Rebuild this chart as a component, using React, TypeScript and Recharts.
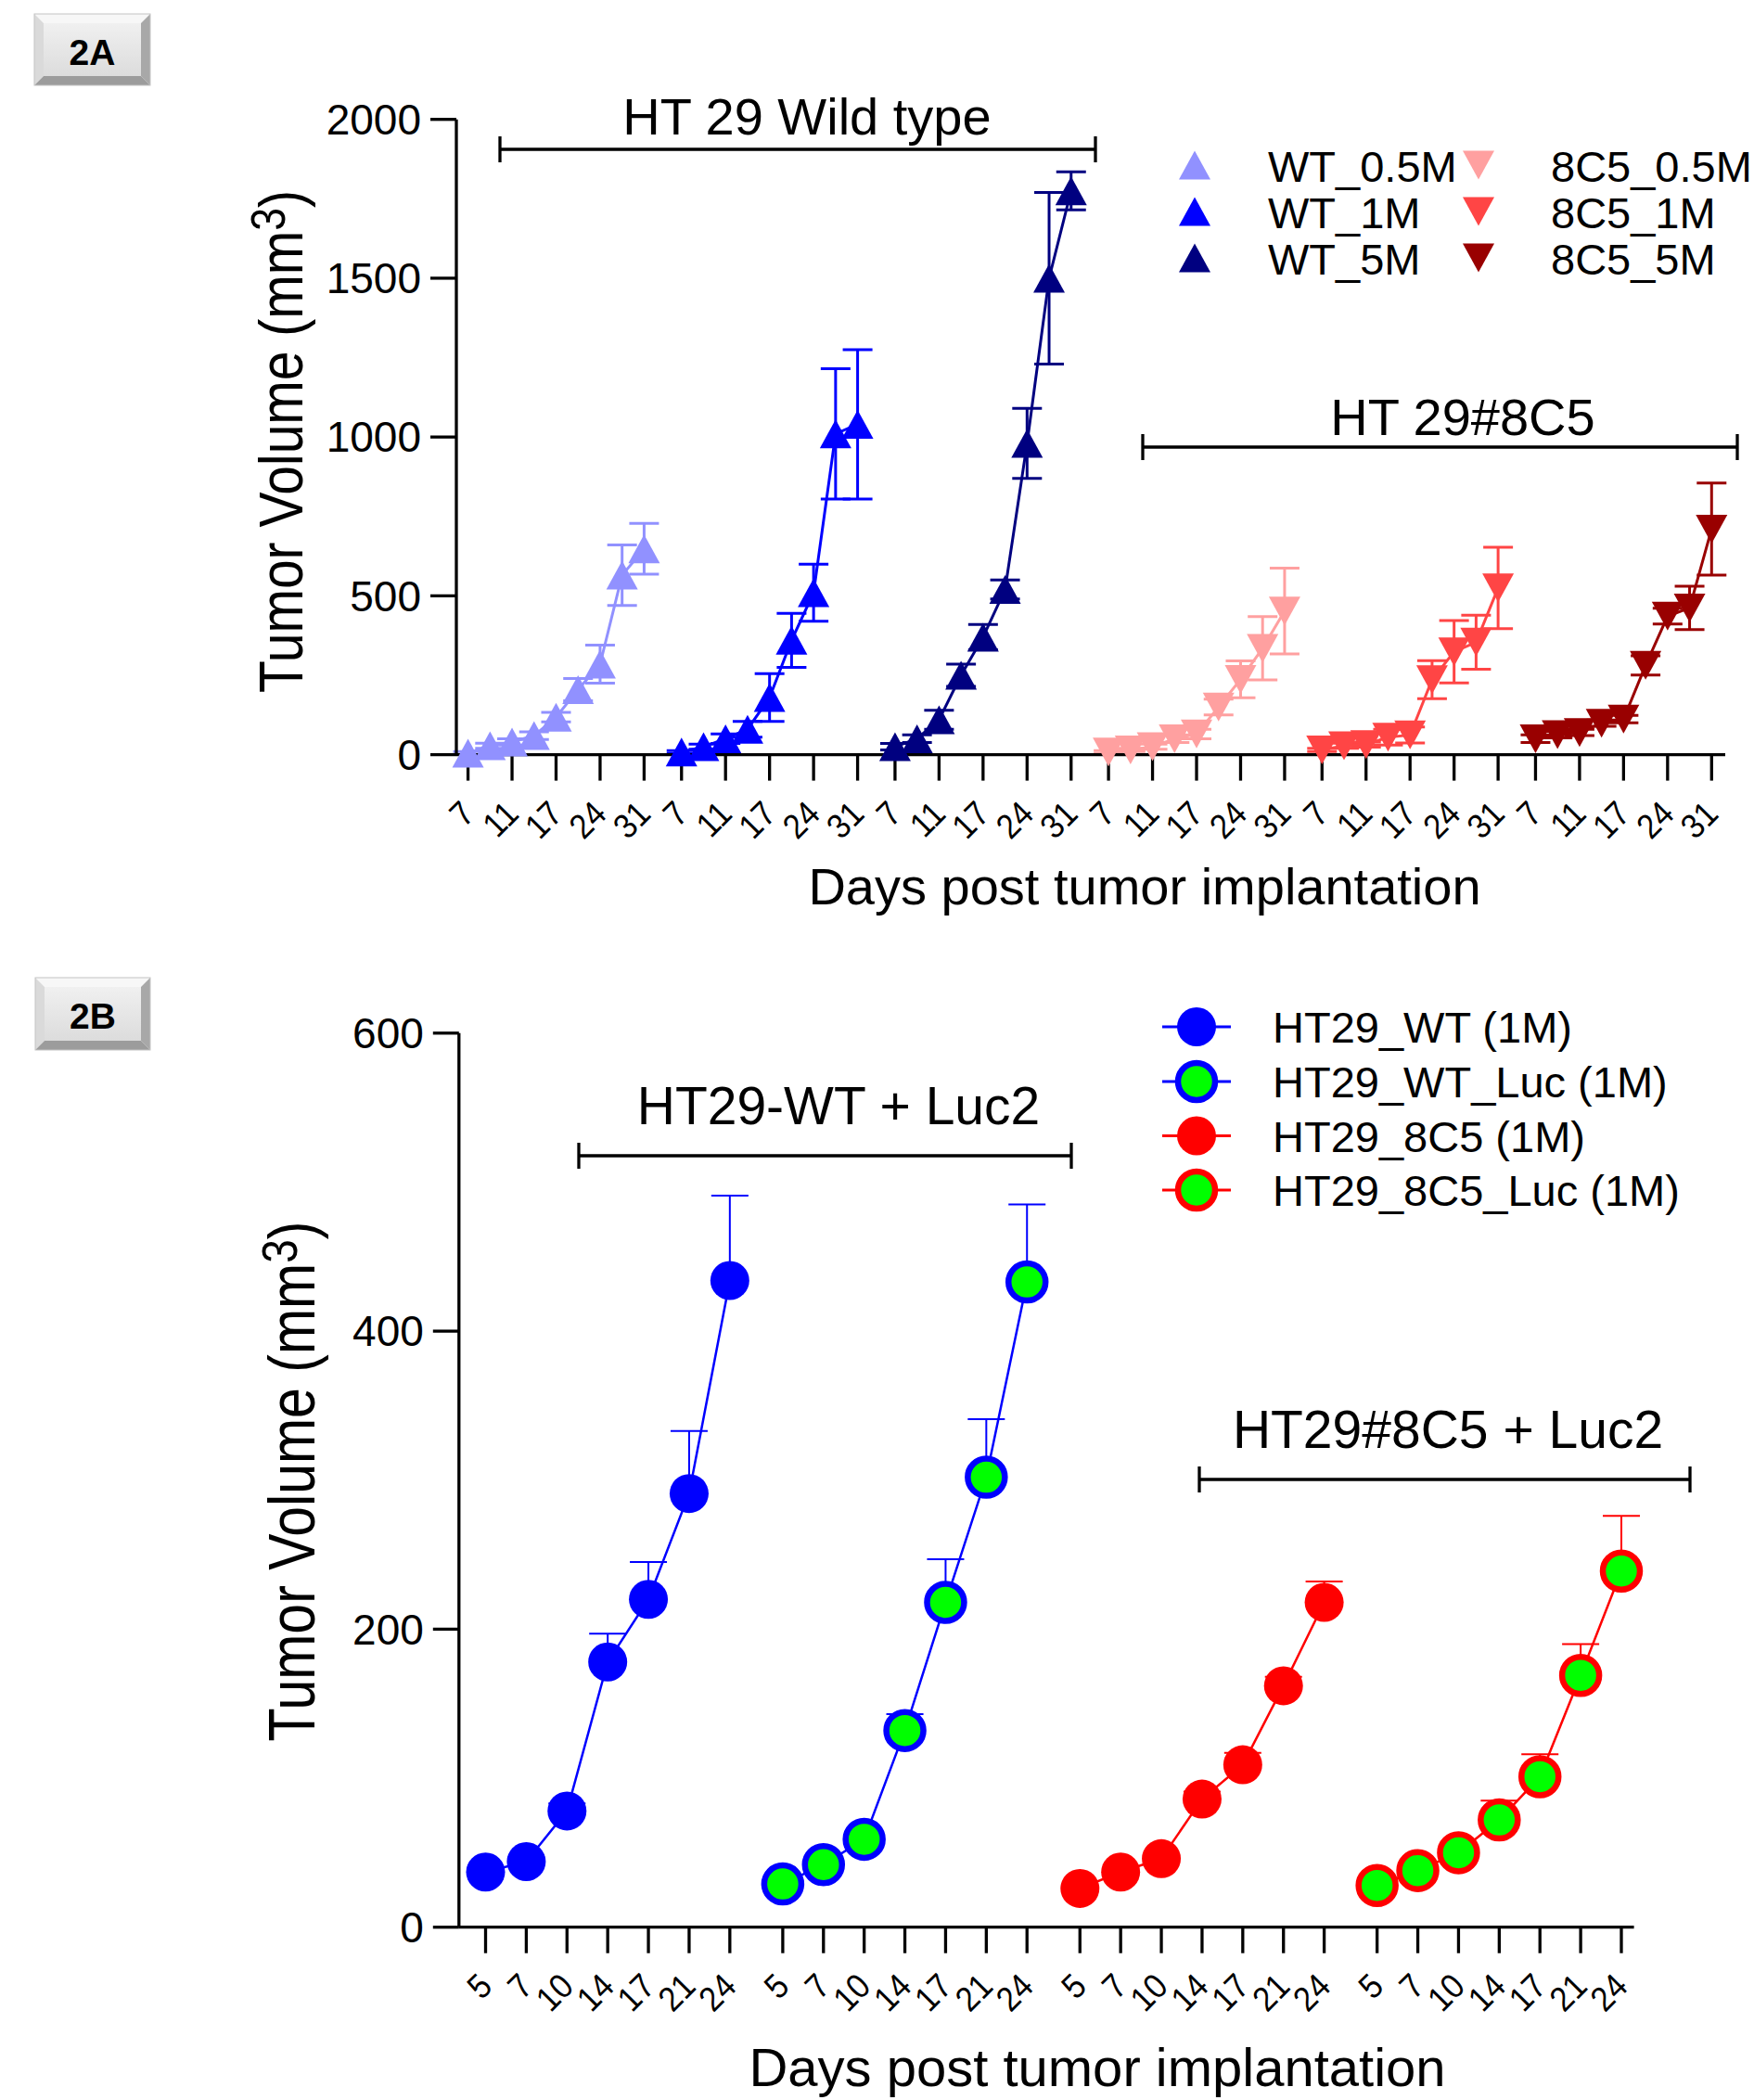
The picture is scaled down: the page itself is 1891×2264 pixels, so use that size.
import React from "react";
import { LineChart, Line, XAxis, YAxis, ErrorBar } from "recharts";

const FONT = "'Liberation Sans', Arial, Helvetica, sans-serif";

// ---------- 2A : days post implantation, 9 measurements per group (every 2nd labelled)
const tickDaysA = ["7", "11", "17", "24", "31"];

const wt05Mean = [5, 28, 40, 60, 118, 205, 285, 565, 648];
const wt05Sem = [5, 8, 10, 12, 15, 35, 60, 95, 80];
const wt1Mean = [8, 25, 50, 80, 180, 360, 510, 1010, 1040];
const wt1Sem = [5, 8, 15, 25, 75, 85, 90, 205, 235];
const wt5Mean = [25, 50, 110, 250, 370, 520, 980, 1500, 1775];
const wt5Sem = [10, 12, 30, 35, 40, 30, 110, 270, 60];
const c05Mean = [8, 15, 25, 50, 65, 150, 237, 335, 452];
const c05Sem = [5, 5, 8, 12, 15, 25, 58, 100, 135];
const c1Mean = [15, 28, 32, 55, 62, 236, 324, 354, 525];
const c1Sem = [5, 8, 8, 25, 25, 60, 98, 85, 128];
const c5Mean = [50, 63, 70, 99, 112, 281, 436, 462, 710];
const c5Sem = [12, 10, 10, 10, 12, 30, 25, 68, 145];

const seriesA = [
  { name: "WT_0.5M", color: "#9191ff", up: true, mean: wt05Mean, sem: wt05Sem },
  { name: "WT_1M", color: "#0000ff", up: true, mean: wt1Mean, sem: wt1Sem },
  { name: "WT_5M", color: "#000080", up: true, mean: wt5Mean, sem: wt5Sem },
  { name: "8C5_0.5M", color: "#ffa0a0", up: false, mean: c05Mean, sem: c05Sem },
  { name: "8C5_1M", color: "#ff4545", up: false, mean: c1Mean, sem: c1Sem },
  { name: "8C5_5M", color: "#990000", up: false, mean: c5Mean, sem: c5Sem },
];

// ---------- 2B
const daysB = ["5", "7", "10", "14", "17", "21", "24"];

const htWtMean = [37, 44, 78, 178, 220, 291, 434];
const htWtSem = [3, 3, 5, 19, 25, 42, 57];
const htWtLucMean = [29, 42, 59, 132, 218, 302, 433];
const htWtLucSem = [3, 3, 4, 11, 29, 39, 52];
const ht8c5Mean = [26, 37, 46, 86, 109, 162, 218];
const ht8c5Sem = [2, 3, 3, 5, 8, 6, 14];
const ht8c5LucMean = [28, 38, 50, 72, 101, 169, 239];
const ht8c5LucSem = [2, 3, 4, 13, 15, 21, 37];

const seriesB = [
  { name: "HT29_WT (1M)", color: "#0000ff", luc: false, mean: htWtMean, sem: htWtSem },
  { name: "HT29_WT_Luc (1M)", color: "#0000ff", luc: true, mean: htWtLucMean, sem: htWtLucSem },
  { name: "HT29_8C5 (1M)", color: "#ff0000", luc: false, mean: ht8c5Mean, sem: ht8c5Sem },
  { name: "HT29_8C5_Luc (1M)", color: "#ff0000", luc: true, mean: ht8c5LucMean, sem: ht8c5LucSem },
];

// groups are laid side by side on one numeric axis
const GROUP_A = 9.7;
const GROUP_B = 7.3;
const GREEN = "#00ff00";

const triPath = (cx: number, cy: number, up: boolean) => {
  const w = 17;
  const h = 15.5;
  return up
    ? `M${cx},${cy - h} L${cx + w},${cy + h} L${cx - w},${cy + h} Z`
    : `M${cx},${cy + h} L${cx + w},${cy - h} L${cx - w},${cy - h} Z`;
};

const makeXTick = (labels: string[]) => (props: any) => {
  const { x, y, index } = props;
  const ax = x + 9;
  const ay = y + 38;
  return (
    <text key={`tick-${index}`} transform={`translate(${ax} ${ay}) rotate(-45) scale(1 1.1)`} textAnchor="end" fontSize={34} fontFamily={FONT} fill="#000">
      {labels[index % labels.length]}
    </text>
  );
};

const axisStyle = { stroke: "#000", strokeWidth: 3.3 };

function BevelBox({ x0, y0, x1, y1, label }: { x0: number; y0: number; x1: number; y1: number; label: string }) {
  const b = 10;
  return (
    <g>
      <rect x={x0 + b} y={y0 + b} width={x1 - x0 - 2 * b} height={y1 - y0 - 2 * b} fill="url(#boxFace)" />
      <polygon points={`${x0},${y0} ${x1},${y0} ${x1 - b},${y0 + b} ${x0 + b},${y0 + b}`} fill="#f7f7f7" />
      <polygon points={`${x0},${y0} ${x0 + b},${y0 + b} ${x0 + b},${y1 - b} ${x0},${y1}`} fill="#dadada" />
      <polygon points={`${x1},${y0} ${x1},${y1} ${x1 - b},${y1 - b} ${x1 - b},${y0 + b}`} fill="#a8a8a8" />
      <polygon points={`${x0},${y1} ${x0 + b},${y1 - b} ${x1 - b},${y1 - b} ${x1},${y1}`} fill="#9c9c9c" />
      <rect x={x0} y={y0} width={x1 - x0} height={y1 - y0} fill="none" stroke="#c4c4c4" strokeWidth={1} />
      <text x={(x0 + x1) / 2} y={y0 + 55} textAnchor="middle" fontSize={39} fontWeight={700} fontFamily={FONT} fill="#000">
        {label}
      </text>
    </g>
  );
}

function Bracket({ x0, x1, y }: { x0: number; x1: number; y: number }) {
  return (
    <g stroke="#000" strokeWidth={3.3}>
      <line x1={x0} y1={y} x2={x1} y2={y} />
      <line x1={x0} y1={y - 14} x2={x0} y2={y + 14} />
      <line x1={x1} y1={y - 14} x2={x1} y2={y + 14} />
    </g>
  );
}

function YTitle({ x, y, size }: { x: number; y: number; size: number }) {
  return (
    <text transform={`translate(${x} ${y}) rotate(-90) scale(1 1.18)`} textAnchor="middle" fontSize={size} fontFamily={FONT} fill="#000">
      Tumor Volume (mm<tspan dy={-16} fontSize={size * 0.78}>3</tspan>
      <tspan dy={16}>)</tspan>
    </text>
  );
}

function ChartA() {
  const ticks: number[] = [];
  seriesA.forEach((_, g) => tickDaysA.forEach((__, k) => ticks.push(g * GROUP_A + 2 * k)));
  return (
    <LineChart width={1891} height={1000} margin={{ top: 128.7, right: 31, bottom: 0, left: 0 }}>
      <XAxis type="number" dataKey="x" domain={[-0.53, 57.12]} ticks={ticks} interval={0} height={186.4} tickSize={28} tickMargin={0} axisLine={axisStyle} tickLine={axisStyle} tick={makeXTick(tickDaysA)} />
      <YAxis type="number" domain={[0, 2000]} ticks={[0, 500, 1000, 1500, 2000]} width={492} tickSize={28} tickMargin={10} axisLine={axisStyle} tickLine={axisStyle} tick={{ fontSize: 46, fill: "#000", fontFamily: FONT }} />
      {seriesA.map((s, g) => {
        const data = s.mean.map((v, i) => ({ x: g * GROUP_A + i, y: v, e: s.sem[i] }));
        return (
          <Line
            key={s.name}
            data={data}
            dataKey="y"
            type="linear"
            stroke={s.color}
            strokeWidth={3}
            isAnimationActive={false}
            activeDot={false}
            dot={(p: any) => <path key={`${s.name}-${p.index}`} d={triPath(p.cx, p.cy, s.up)} fill={s.color} />}
          >
            <ErrorBar dataKey="e" width={16} strokeWidth={3} stroke={s.color} direction="y" isAnimationActive={false} />
          </Line>
        );
      })}
    </LineChart>
  );
}

function ChartB() {
  const ticks: number[] = [];
  seriesB.forEach((_, g) => daysB.forEach((__, k) => ticks.push(g * GROUP_B + k)));
  return (
    <LineChart width={1891} height={1264} margin={{ top: 113.8, right: 129.4, bottom: 0, left: 0 }}>
      <XAxis type="number" dataKey="x" domain={[-0.654, 28.21]} ticks={ticks} interval={0} height={186.3} tickSize={28} tickMargin={0} axisLine={axisStyle} tickLine={axisStyle} tick={makeXTick(daysB)} />
      <YAxis type="number" domain={[0, 600]} ticks={[0, 200, 400, 600]} width={494.8} tickSize={28} tickMargin={10} axisLine={axisStyle} tickLine={axisStyle} tick={{ fontSize: 46, fill: "#000", fontFamily: FONT }} />
      {seriesB.map((s, g) => {
        const data = s.mean.map((v, i) => ({ x: g * GROUP_B + i, y: v, e: [0, s.sem[i]] }));
        return (
          <Line
            key={s.name}
            data={data}
            dataKey="y"
            type="linear"
            stroke={s.color}
            strokeWidth={2.5}
            isAnimationActive={false}
            activeDot={false}
            dot={(p: any) =>
              s.luc ? (
                <circle key={`${s.name}-${p.index}`} cx={p.cx} cy={p.cy} r={20} fill={GREEN} stroke={s.color} strokeWidth={6.5} />
              ) : (
                <circle key={`${s.name}-${p.index}`} cx={p.cx} cy={p.cy} r={21} fill={s.color} />
              )
            }
          >
            <ErrorBar dataKey="e" width={20} strokeWidth={2} stroke={s.color} direction="y" isAnimationActive={false} />
          </Line>
        );
      })}
    </LineChart>
  );
}

function Overlay() {
  const legA = [
    { x: 1288, tx: 1367 },
    { x: 1594, tx: 1672 },
  ];
  const rowsA = [179, 229, 279];
  const rowsB = [1107, 1166, 1224.5, 1283];
  return (
    <svg width={1891} height={2264} style={{ position: "absolute", left: 0, top: 0, pointerEvents: "none" }}>
      <defs>
        <linearGradient id="boxFace" x1="0" y1="0" x2="0" y2="1">
          <stop offset="0" stopColor="#f0f0f0" />
          <stop offset="1" stopColor="#dcdcdc" />
        </linearGradient>
      </defs>
      <BevelBox x0={37} y0={15} x1={162} y1={92} label="2A" />
      <BevelBox x0={38} y0={1054} x1={162} y1={1132} label="2B" />

      {/* 2A annotations */}
      <Bracket x0={539} x1={1181} y={161} />
      <text x={870} y={145} textAnchor="middle" fontSize={56} fontFamily={FONT} fill="#000">HT 29 Wild type</text>
      <Bracket x0={1232} x1={1873} y={482} />
      <text x={1577} y={469} textAnchor="middle" fontSize={56} fontFamily={FONT} fill="#000">HT 29#8C5</text>
      {seriesA.map((s, i) => {
        const col = legA[s.up ? 0 : 1];
        const ry = rowsA[i % 3];
        return (
          <g key={s.name}>
            <path d={triPath(col.x, ry - 1, s.up)} fill={s.color} />
            <text x={col.tx} y={ry + 17} fontSize={47} fontFamily={FONT} fill="#000">{s.name}</text>
          </g>
        );
      })}
      <YTitle x={326} y={476} size={57} />
      <text x={1234} y={975} textAnchor="middle" fontSize={56} fontFamily={FONT} fill="#000">Days post tumor implantation</text>

      {/* 2B annotations */}
      <Bracket x0={624} x1={1155} y={1246} />
      <text x={904} y={1212} textAnchor="middle" fontSize={57} fontFamily={FONT} fill="#000">HT29-WT + Luc2</text>
      <Bracket x0={1293} x1={1822} y={1595} />
      <text x={1561} y={1561} textAnchor="middle" fontSize={57} fontFamily={FONT} fill="#000">HT29#8C5 + Luc2</text>
      {seriesB.map((s, i) => {
        const ry = rowsB[i];
        return (
          <g key={s.name}>
            <line x1={1253} y1={ry} x2={1327} y2={ry} stroke={s.color} strokeWidth={3} />
            {s.luc ? (
              <circle cx={1290} cy={ry} r={20} fill={GREEN} stroke={s.color} strokeWidth={6.5} />
            ) : (
              <circle cx={1290} cy={ry} r={21} fill={s.color} />
            )}
            <text x={1372} y={ry + 17} fontSize={47} fontFamily={FONT} fill="#000">{s.name}</text>
          </g>
        );
      })}
      <YTitle x={339} y={1597} size={59} />
      <text x={1183} y={2249} textAnchor="middle" fontSize={58} fontFamily={FONT} fill="#000">Days post tumor implantation</text>
    </svg>
  );
}

export default function App() {
  return (
    <div style={{ position: "absolute", left: 0, top: 0, width: 1891, height: 2264, background: "#fff", overflow: "hidden" }}>
      <div style={{ position: "absolute", left: 0, top: 0 }}>
        <ChartA />
      </div>
      <div style={{ position: "absolute", left: 0, top: 1000 }}>
        <ChartB />
      </div>
      <Overlay />
    </div>
  );
}
